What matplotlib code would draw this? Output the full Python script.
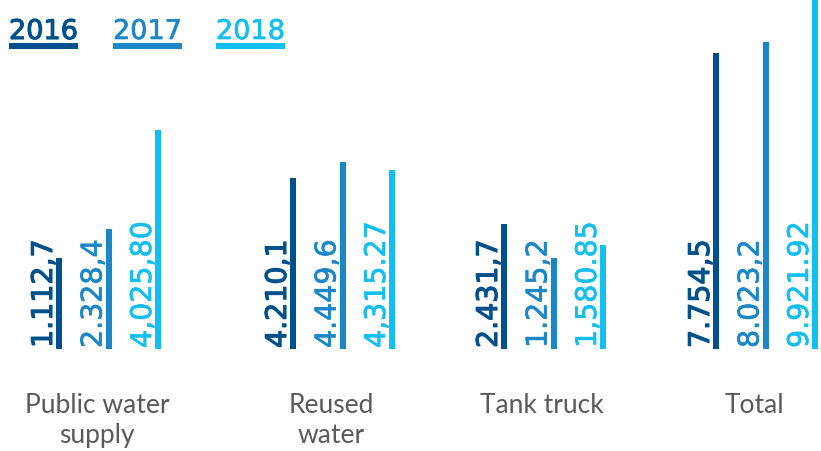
import matplotlib
matplotlib.use("Agg")
import matplotlib.pyplot as plt
from matplotlib.lines import Line2D
import matplotlib.patheffects as pe

# data
categories = ["Public water\nsupply", "Reused\nwater", "Tank truck", "Total"]
years = ["2016", "2017", "2018"]
labels_2016 = ["1.112,7", "4.210,1", "2.431,7", "7.754,5"]
labels_2017 = ["2.328,4", "4.449,6", "1.245,2", "8.023,2"]
labels_2018 = ["4,025,80", "4,315.27", "1,580.85", "9.921.92"]
# drawn bar heights (the bars in the original are not to scale with the labels)
heights_2016 = [91, 171, 125, 296]
heights_2017 = [120, 187, 91, 307]
heights_2018 = [219, 179, 104, 380]

colors = ["#00508C", "#1A87C9", "#13BEF0"]
stroke_w = [0.8, 0.45, 0.45]

W, H = 821, 451
base = 349            # pixel row of the bar baseline
group_x = [59, 293, 504, 716]
step = 49.5
bar_w = 6

fig = plt.figure(figsize=(W / 100, H / 100), dpi=100)
ax = fig.add_axes([0, (H - base) / H, 1, base / H])
ax.set_xlim(0, W)
ax.set_ylim(0, base)
ax.axis("off")

series = [(labels_2016, heights_2016), (labels_2017, heights_2017), (labels_2018, heights_2018)]
for j, (labs, hs) in enumerate(series):
    xs = [g + j * step for g in group_x]
    ax.bar(xs, hs, width=bar_w, color=colors[j])
    thick = [pe.withStroke(linewidth=stroke_w[j], foreground=colors[j])]
    for x, lab in zip(xs, labs):
        ax.text(x - bar_w / 2 - 4, 1, lab, rotation=90, rotation_mode="anchor",
                ha="left", va="baseline", fontsize=20.5, color=colors[j],
                family="DejaVu Sans", path_effects=thick)

# category names under each group
for g, cat in zip(group_x, categories):
    for k, line in enumerate(cat.split("\n")):
        fig.text((g + 38) / W, 1 - (413 + k * 30) / H, line, ha="center",
                 va="baseline", fontsize=19, color="#5a5a5a",
                 family="Lato", fontweight="normal")

# legend: underlined years
fig.canvas.draw()
r = fig.canvas.get_renderer()
for lx, yr, c, sw in zip([9, 113, 216], years, colors, stroke_w):
    t = fig.text(lx / W, 1 - 39 / H, yr, ha="left", va="baseline",
                 fontsize=19.5, color=c, family="DejaVu Sans",
                 path_effects=[pe.withStroke(linewidth=sw, foreground=c)])
    bb = t.get_window_extent(renderer=r)
    fig.add_artist(Line2D([bb.x0 / W, bb.x1 / W], [1 - 46 / H, 1 - 46 / H],
                          color=c, linewidth=4.3, solid_capstyle="butt",
                          transform=fig.transFigure))

fig.savefig("out.png", dpi=100)
